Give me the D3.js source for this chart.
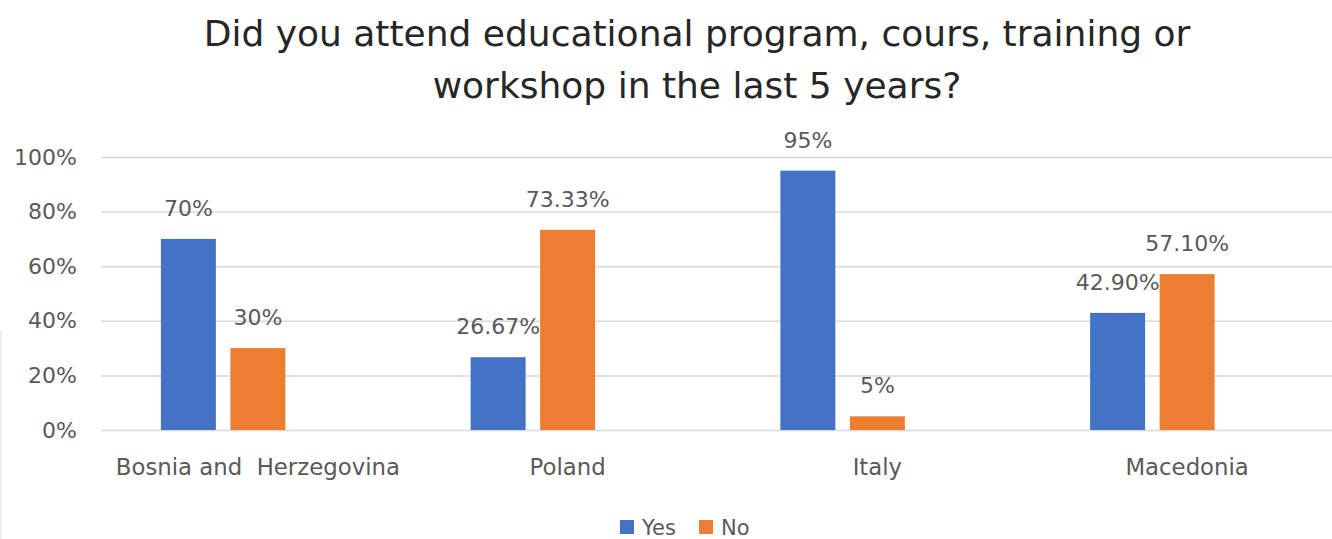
<!DOCTYPE html>
<html><head><meta charset="utf-8">
<script src="https://cdn.jsdelivr.net/npm/d3@7/dist/d3.min.js"></script>
<style>body{margin:0;background:#fff;overflow:hidden}svg{display:block}</style>
</head><body>
<svg id="c" width="1332" height="539"></svg>
<script>
const categories = ["Bosnia and  Herzegovina", "Poland", "Italy", "Macedonia"];
const seriesNames = ["Yes", "No"];
const yesValues = [70, 26.67, 95, 42.9];
const noValues = [30, 73.33, 5, 57.1];
const yesLabels = ["70%", "26.67%", "95%", "42.90%"];
const noLabels = ["30%", "73.33%", "5%", "57.10%"];
const yTicks = [0, 20, 40, 60, 80, 100];
const colors = {Yes: "#4472C4", No: "#ED7D31"};
const titleLines = ["Did you attend educational program, cours, training or", "workshop in the last 5 years?"];

const svg = d3.select("#c");
const font = "'DejaVu Sans', sans-serif";
const textCol = "#595959";

const x0 = d3.scaleBand().domain(categories).range([103, 1342]).paddingInner(0).paddingOuter(0);
const slotSpan = 194;
const gw = x0.bandwidth();
const x1 = d3.scaleBand().domain(["Yes", "No", "_"]).range([(gw - slotSpan) / 2, (gw + slotSpan) / 2]).paddingInner(0.209).paddingOuter(0);
const y = d3.scaleLinear().domain([0, 100]).range([430, 157]);

// title
svg.append("g").selectAll("text").data(titleLines).join("text")
  .attr("x", 697).attr("y", (d, i) => 46 + i * 52)
  .attr("text-anchor", "middle").attr("font-family", font).attr("font-size", 36)
  .attr("fill", "#262626").text(d => d);

// gridlines + y axis
const yAxis = d3.axisLeft(y).tickValues(yTicks).tickFormat(d => d + "%").tickSize(-(1342 - 101)).tickPadding(24);
const ga = svg.append("g").attr("transform", "translate(101,0)").call(yAxis);
ga.select(".domain").remove();
ga.selectAll(".tick line").attr("stroke", "#D9D9D9").attr("stroke-width", 1.5);
ga.selectAll(".tick text").attr("font-family", font).attr("font-size", 22).attr("fill", textCol);

// x axis labels
const xAxis = d3.axisBottom(x0).tickSize(0).tickPadding(29);
const gx = svg.append("g").attr("transform", "translate(0,430)").call(xAxis);
gx.select(".domain").remove();
gx.selectAll(".tick text").attr("font-family", font).attr("font-size", 22.8).attr("fill", textCol).style("white-space", "pre");

// bars
const rows = categories.map((c, i) => ({cat: c, vals: [
  {s: "Yes", v: yesValues[i], lab: yesLabels[i]},
  {s: "No", v: noValues[i], lab: noLabels[i]}]}));
const groups = svg.append("g").selectAll("g").data(rows).join("g")
  .attr("transform", d => `translate(${x0(d.cat)},0)`);
groups.selectAll("rect").data(d => d.vals).join("rect")
  .attr("x", d => x1(d.s)).attr("width", x1.bandwidth())
  .attr("y", d => y(d.v)).attr("height", d => y(0) - y(d.v))
  .attr("fill", d => colors[d.s]);
groups.selectAll("text").data(d => d.vals).join("text")
  .attr("x", d => x1(d.s) + x1.bandwidth() / 2).attr("y", d => y(d.v) - 23)
  .attr("text-anchor", "middle").attr("font-family", font).attr("font-size", 22)
  .attr("fill", textCol).text(d => d.lab);

// legend
const lg = svg.append("g").selectAll("g").data(seriesNames).join("g")
  .attr("transform", (d, i) => `translate(${620 + i * 79},520)`);
lg.append("rect").attr("width", 14).attr("height", 14).attr("fill", d => colors[d]);
lg.append("text").attr("x", 22).attr("y", 14.5).attr("font-family", font).attr("font-size", 21)
  .attr("fill", textCol).text(d => d);

// left border line
svg.append("line").attr("x1", 1).attr("x2", 1).attr("y1", 330).attr("y2", 539).attr("stroke", "#D9D9D9");
</script>
</body></html>
